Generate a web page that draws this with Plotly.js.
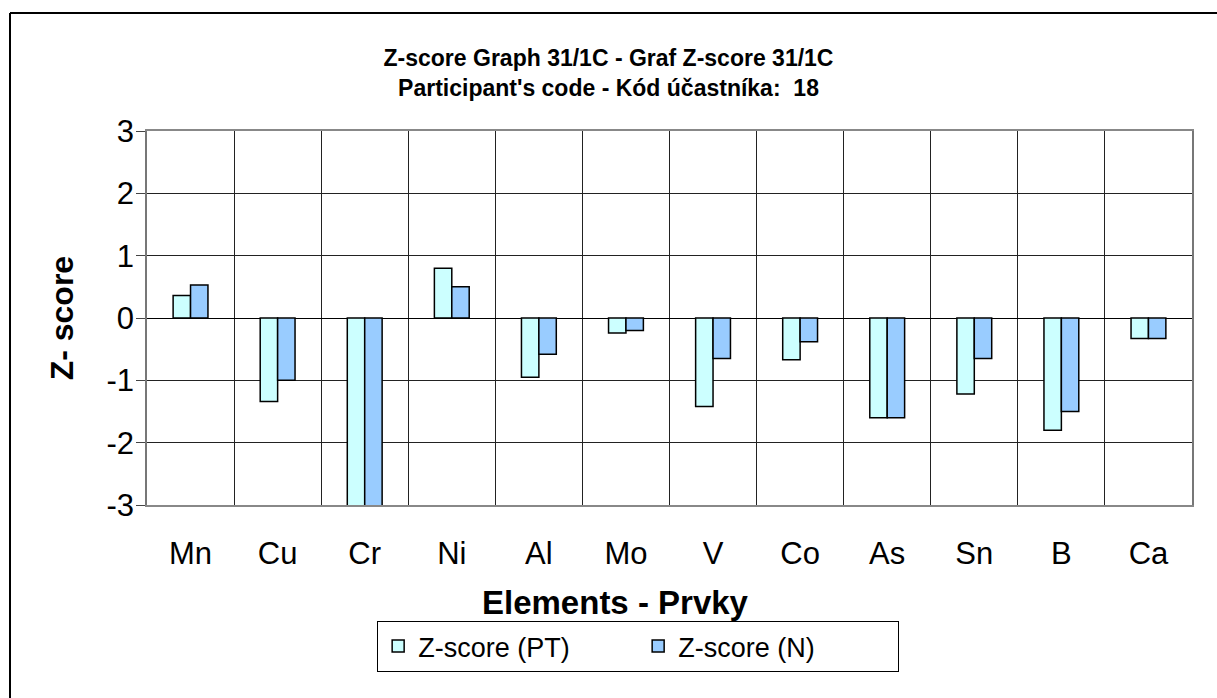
<!DOCTYPE html>
<html>
<head>
<meta charset="utf-8">
<script src="https://cdn.plot.ly/plotly-3.0.1.min.js"></script>
<style>
  body { margin: 0; background: #fff; overflow: hidden; }
  #chart { width: 1217px; height: 698px; }
</style>
</head>
<body>
<div id="chart"></div>
<script>
// elements on the x axis
var elements = ["Mn", "Cu", "Cr", "Ni", "Al", "Mo", "V", "Co", "As", "Sn", "B", "Ca"];

// z-scores
var zscorePT = [0.36, -1.34, -3.2, 0.80, -0.95, -0.24, -1.42, -0.67, -1.60, -1.22, -1.80, -0.33];
var zscoreN  = [0.53, -1.00, -3.2, 0.50, -0.58, -0.20, -0.65, -0.38, -1.60, -0.65, -1.50, -0.33];

// y ticks, written with a plain hyphen like the original
var yTickVals = [-3, -2, -1, 0, 1, 2, 3];
var yTickText = ["-3", "-2", "-1", "0", "1", "2", "3"];

var font = "Arial, 'Liberation Sans', sans-serif";

var tracePT = {
  x: elements,
  y: zscorePT,
  name: "Z-score (PT)",
  type: "bar",
  marker: {color: "#CCFFFF", line: {color: "#000", width: 1.5}}
};
var traceN = {
  x: elements,
  y: zscoreN,
  name: "Z-score (N)",
  type: "bar",
  marker: {color: "#99CCFF", line: {color: "#000", width: 1.5}}
};

var data = [tracePT, traceN];

var layout = {
  width: 1217,
  height: 698,
  margin: {l: 147, r: 25, t: 131, b: 193},
  paper_bgcolor: "#fff",
  plot_bgcolor: "#fff",
  font: {family: font, color: "#000"},
  barmode: "group",
  bargap: 0.6,
  bargroupgap: 0,
  showlegend: true,
  title: {
    text: "<b>Z-score Graph 31/1C - Graf Z-score 31/1C<br>Participant's code - Kód účastníka:&nbsp; 18</b>",
    font: {size: 23, family: font},
    xref: "container", x: 0.5,
    yref: "container", y: 0.905, yanchor: "middle"
  },
  xaxis: {
    type: "category",
    tickson: "boundaries",
    showgrid: true,
    gridcolor: "#222",
    gridwidth: 1,
    ticks: "",
    ticklabelstandoff: 20,
    tickfont: {size: 31},
    showline: true,
    mirror: true,
    linecolor: "#888",
    linewidth: 2
  },
  yaxis: {
    range: [-3, 3],
    tickmode: "array",
    tickvals: yTickVals,
    ticktext: yTickText,
    ticks: "outside",
    ticklen: 9,
    tickcolor: "#444",
    ticklabelstandoff: -4,
    tickfont: {size: 31},
    showgrid: true,
    gridcolor: "#222",
    gridwidth: 1,
    zeroline: true,
    zerolinecolor: "#000",
    zerolinewidth: 1.2,
    showline: true,
    mirror: true,
    linecolor: "#777",
    linewidth: 1.5
  },
  legend: {
    orientation: "h",
    xref: "paper", x: 0.47, xanchor: "center",
    yref: "paper", y: -0.31, yanchor: "top",
    entrywidth: 215,
    bgcolor: "#fff",
    bordercolor: "#000",
    borderwidth: 1,
    font: {size: 27}
  },
  // outer chart frame: only its left and top edges fall inside the picture
  shapes: [
    {type: "line", xref: "paper", yref: "paper", x0: -0.1311, x1: -0.1311, y0: -1, y1: 1.3155,
     line: {color: "#000", width: 2}},
    {type: "line", xref: "paper", yref: "paper", x0: -0.1311, x1: 1.2, y0: 1.3155, y1: 1.3155,
     line: {color: "#000", width: 2}}
  ],
  annotations: [
    {
      text: "<b>Elements - Prvky</b>",
      xref: "paper", x: 0.448, xanchor: "center",
      yref: "paper", y: -0.262, yanchor: "middle",
      showarrow: false,
      font: {size: 33}
    },
    {
      text: "<b>Z- score</b>",
      textangle: -90,
      xref: "paper", x: -0.081, xanchor: "center",
      yref: "paper", y: 0.5, yanchor: "middle",
      showarrow: false,
      font: {size: 32}
    }
  ]
};

Plotly.newPlot("chart", data, layout, {displayModeBar: false});
</script>
</body>
</html>
